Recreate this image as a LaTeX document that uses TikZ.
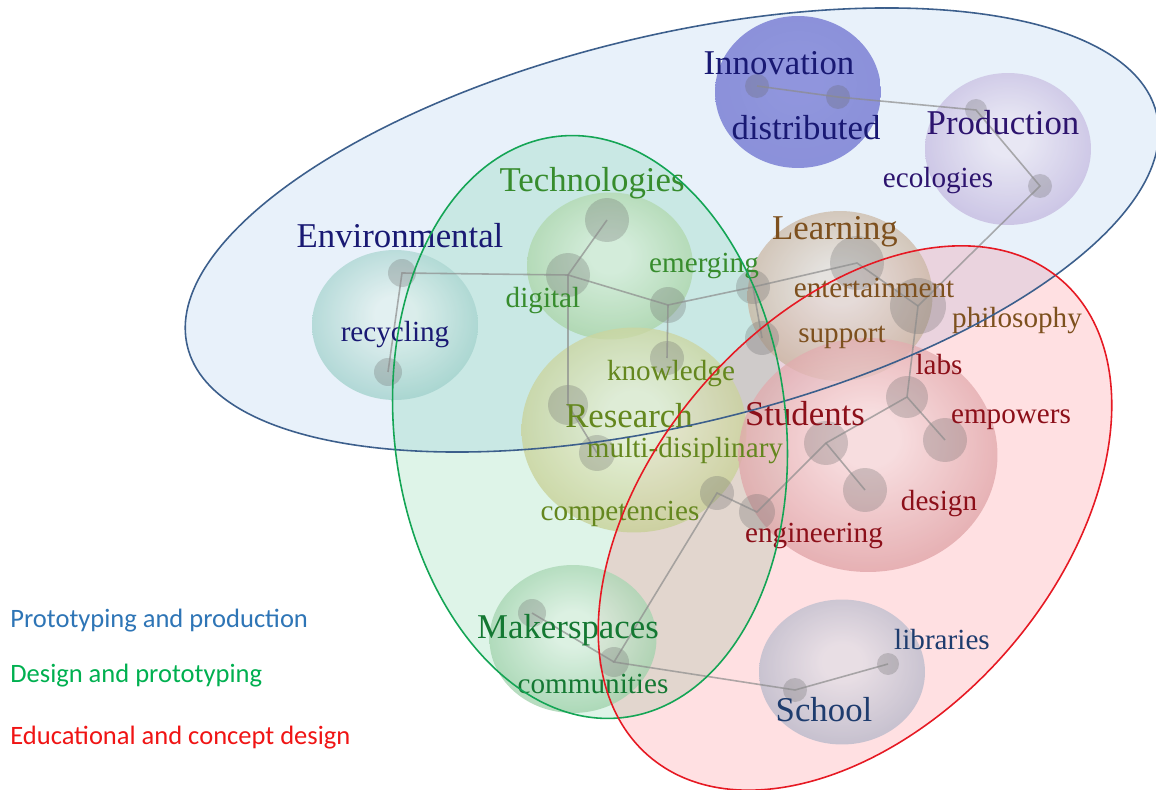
\documentclass[tikz,border=0pt]{standalone}
\usepackage{fontspec}
\setmainfont{Liberation Serif}
\newfontfamily\legendfont{Carlito}
\usetikzlibrary{shapes.geometric, positioning}

% group colours
\definecolor{protoline}{RGB}{60,95,140}
\definecolor{protofill}{RGB}{205,225,245}
\definecolor{designline}{RGB}{20,165,85}
\definecolor{designfill}{RGB}{0,176,80}
\definecolor{educline}{RGB}{230,25,35}
\definecolor{educfill}{RGB}{255,0,20}
\definecolor{protoleg}{RGB}{46,117,182}
\definecolor{designleg}{RGB}{0,176,80}
\definecolor{educleg}{RGB}{240,20,20}
% sphere colours
\definecolor{innovin}{RGB}{122,127,214}
\definecolor{innovout}{RGB}{108,113,204}
\definecolor{prodin}{RGB}{232,228,242}
\definecolor{prodout}{RGB}{150,130,200}
\definecolor{envin}{RGB}{225,240,238}
\definecolor{envout}{RGB}{80,170,160}
\definecolor{techin}{RGB}{215,238,215}
\definecolor{techout}{RGB}{115,180,105}
\definecolor{learnin}{RGB}{228,222,215}
\definecolor{learnout}{RGB}{165,125,85}
\definecolor{resin}{RGB}{230,238,210}
\definecolor{resout}{RGB}{160,170,70}
\definecolor{studin}{RGB}{245,220,222}
\definecolor{studout}{RGB}{195,90,95}
\definecolor{makerin}{RGB}{220,240,225}
\definecolor{makerout}{RGB}{80,170,100}
\definecolor{schoolin}{RGB}{225,222,230}
\definecolor{schoolout}{RGB}{125,135,165}
% text colours
\definecolor{navytxt}{RGB}{25,25,115}
\definecolor{indigotxt}{RGB}{45,20,110}
\definecolor{techtxt}{RGB}{55,140,45}
\definecolor{learntxt}{RGB}{125,80,30}
\definecolor{restxt}{RGB}{100,135,30}
\definecolor{studtxt}{RGB}{140,15,25}
\definecolor{makertxt}{RGB}{20,120,50}
\definecolor{schooltxt}{RGB}{30,60,110}
% sphere shading
\colorlet{bubin}{white}
\colorlet{bubout}{gray}
\pgfdeclareradialshading[bubin,bubout]{bubble}{\pgfpoint{0bp}{4bp}}{color(0bp)=(bubin); color(6bp)=(bubin); color(52bp)=(bubout)}

\begin{document}
\begin{tikzpicture}[
		x=0.02cm, y=-0.02cm,
		sphere/.style 2 args={ellipse, inner sep=0pt, fill opacity=0.75,
			/utils/exec={\colorlet{bubin}{#1}\colorlet{bubout}{#2}}, shading=bubble},
		dot/.style={circle, fill=black!60, fill opacity=0.28, inner sep=0pt, minimum size=#1},
		link/.style={draw=black!45, line width=0.9pt, draw opacity=0.7},
		big/.style={font=\fontsize{19.8}{22}\selectfont, inner sep=0pt, anchor=base},
		small/.style={font=\fontsize{16.6}{19}\selectfont, inner sep=0pt, anchor=base},
		legend/.style={font=\legendfont\fontsize{15.1}{18}\selectfont, inner sep=0pt, anchor=base west}
		]
		\useasboundingbox[fill=white] (0,0) rectangle (1156,790);
		
		% Groups
		\fill[protofill, fill opacity=0.45, shift={(672,230)}, rotate=13.5] (0,0) ellipse [x radius=9.97cm, y radius=3.89cm];
		\fill[designfill, fill opacity=0.13, shift={(590,427)}, rotate=6.4] (0,0) ellipse [x radius=3.92cm, y radius=5.85cm];
		\fill[educfill, fill opacity=0.12, shift={(855,518)}, rotate=49] (0,0) ellipse [x radius=6.3cm, y radius=4.04cm];
		
		% Spheres
		\node[sphere={innovin}{innovout}, fill opacity=0.8, minimum width=3.32cm, minimum height=3.04cm] (innov) at (798,92) {};
		\node[sphere={prodin}{prodout}, minimum width=3.32cm, minimum height=3.04cm] (prod) at (1008,149) {};
		\node[sphere={envin}{envout}, minimum width=3.32cm, minimum height=3cm] (env) at (395,325) {};
		\node[sphere={techin}{techout}, minimum width=3.32cm, minimum height=2.94cm] (tech) at (610,266) {};
		\node[sphere={learnin}{learnout}, minimum width=3.7cm, minimum height=3.4cm] (learn) at (840,296) {};
		\node[sphere={resin}{resout}, minimum width=4.5cm, minimum height=4.1cm] (res) at (634,430) {};
		\node[sphere={studin}{studout}, minimum width=5.18cm, minimum height=4.68cm] (stud) at (868,455) {};
		\node[sphere={makerin}{makerout}, minimum width=3.34cm, minimum height=2.96cm] (maker) at (573,639) {};
		\node[sphere={schoolin}{schoolout}, minimum width=3.32cm, minimum height=2.9cm] (school) at (842,672) {};
		
		% Dots
		\node[dot=0.48cm] (innovA) at (757,86) {};
		\node[dot=0.48cm] (innovB) at (838,97) {};
		\node[dot=0.44cm] (prodA) at (976,110) {};
		\node[dot=0.48cm] (prodB) at (1040,186) {};
		\node[dot=0.56cm] (envA) at (402,273) {};
		\node[dot=0.56cm] (envB) at (388,372) {};
		\node[dot=0.88cm] (techA) at (607,220) {};
		\node[dot=0.88cm] (techB) at (568,275) {};
		\node[dot=0.72cm] (techC) at (668,305) {};
		\node[dot=0.68cm] (knowA) at (667,358) {};
		\node[dot=0.68cm] (learnA) at (753,287) {};
		\node[dot=1.08cm] (learnB) at (857,263) {};
		\node[dot=1.12cm] (learnC) at (918,306) {};
		\node[dot=0.68cm] (learnD) at (762,338) {};
		\node[dot=0.8cm] (resA) at (568,405) {};
		\node[dot=0.72cm] (resB) at (597,453) {};
		\node[dot=0.68cm] (resC) at (717,493) {};
		\node[dot=0.84cm] (studA) at (907,397) {};
		\node[dot=0.88cm] (studB) at (945,440) {};
		\node[dot=0.88cm] (studC) at (826,443) {};
		\node[dot=0.88cm] (studD) at (865,490) {};
		\node[dot=0.72cm] (studE) at (757,512) {};
		\node[dot=0.56cm] (makerA) at (532,613) {};
		\node[dot=0.6cm] (makerB) at (614,662) {};
		\node[dot=0.48cm] (schoolA) at (795,690) {};
		\node[dot=0.44cm] (schoolB) at (888,664) {};
		
		% Links
		\draw[link] (innovA.center) -- (innovB.center) -- (prodA.center) -- (prodB.center) -- (learnC.center) -- (studA.center) -- (studC.center) -- (studE.center) -- (resC.center) -- (makerB.center) -- (schoolA.center) -- (schoolB.center);
		\draw[link] (learnC.center) -- (learnB.center) -- (learnA.center) -- (techC.center) -- (techB.center) -- (envA.center) -- (envB.center);
		\draw[link] (learnA.center) -- (learnD.center);
		\draw[link] (techC.center) -- (knowA.center);
		\draw[link] (techB.center) -- (techA.center);
		\draw[link] (techB.center) -- (resA.center) -- (resB.center);
		\draw[link] (studA.center) -- (studB.center);
		\draw[link] (studC.center) -- (studD.center);
		\draw[link] (makerA.center) -- (makerB.center);
		
		% Labels
		\node[big, text=navytxt] (innovtxt) at (779,75) {Innovation};
		\node[big, text=navytxt] (distribtxt) at (806,140) {distributed};
		\node[big, text=indigotxt] (prodtxt) at (1003,135) {Production};
		\node[small, text=indigotxt] (ecotxt) at (938,188) {ecologies};
		\node[big, text=navytxt] (envtxt) at (400,248) {Environmental};
		\node[small, text=navytxt] (recytxt) at (395,342) {recycling};
		\node[big, text=techtxt] (techtxt) at (592,192) {Technologies};
		\node[small, text=techtxt] (digitxt) at (543,308) {digital};
		\node[small, text=techtxt] (emertxt) at (704,273) {emerging};
		\node[big, text=learntxt] (learntxt) at (835,240) {Learning};
		\node[small, text=learntxt] (entertxt) at (874,298) {entertainment};
		\node[small, text=learntxt] (supptxt) at (842,343) {support};
		\node[small, text=learntxt] (philotxt) at (1017,328) {philosophy};
		\node[small, text=restxt] (knowtxt) at (671,380) {knowledge};
		\node[big, text=restxt] (restxt) at (629,427) {Research};
		\node[small, text=restxt] (multitxt) at (685,458) {multi-disiplinary};
		\node[small, text=restxt] (comptxt) at (620,520) {competencies};
		\node[big, text=studtxt] (studtxt) at (805,425) {Students};
		\node[small, text=studtxt] (labstxt) at (939,375) {labs};
		\node[small, text=studtxt] (empotxt) at (1011,423) {empowers};
		\node[small, text=studtxt] (desitxt) at (939,510) {design};
		\node[small, text=studtxt] (engitxt) at (814,542) {engineering};
		\node[big, text=makertxt] (makertxt) at (568,638) {Makerspaces};
		\node[small, text=makertxt] (commtxt) at (593,693) {communities};
		\node[big, text=schooltxt] (schooltxt) at (824,721) {School};
		\node[small, text=schooltxt] (libtxt) at (942,649) {libraries};
		
		% Group outlines
		\draw[protoline, line width=0.9pt, shift={(672,230)}, rotate=13.5] (0,0) ellipse [x radius=9.97cm, y radius=3.89cm];
		\draw[designline, line width=0.9pt, shift={(590,427)}, rotate=6.4] (0,0) ellipse [x radius=3.92cm, y radius=5.85cm];
		\draw[educline, line width=0.9pt, shift={(855,518)}, rotate=49] (0,0) ellipse [x radius=6.3cm, y radius=4.04cm];
		
		% Legend
		\node[legend, text=protoleg] (legproto) at (10,627) {Prototyping and production};
		\node[legend, text=designleg, below=1.12cm of legproto.base west, anchor=base west] (legdesign) {Design and prototyping};
		\node[legend, text=educleg, below=1.24cm of legdesign.base west, anchor=base west] (legeduc) {Educational and concept design};
	\end{tikzpicture}
\end{document}
